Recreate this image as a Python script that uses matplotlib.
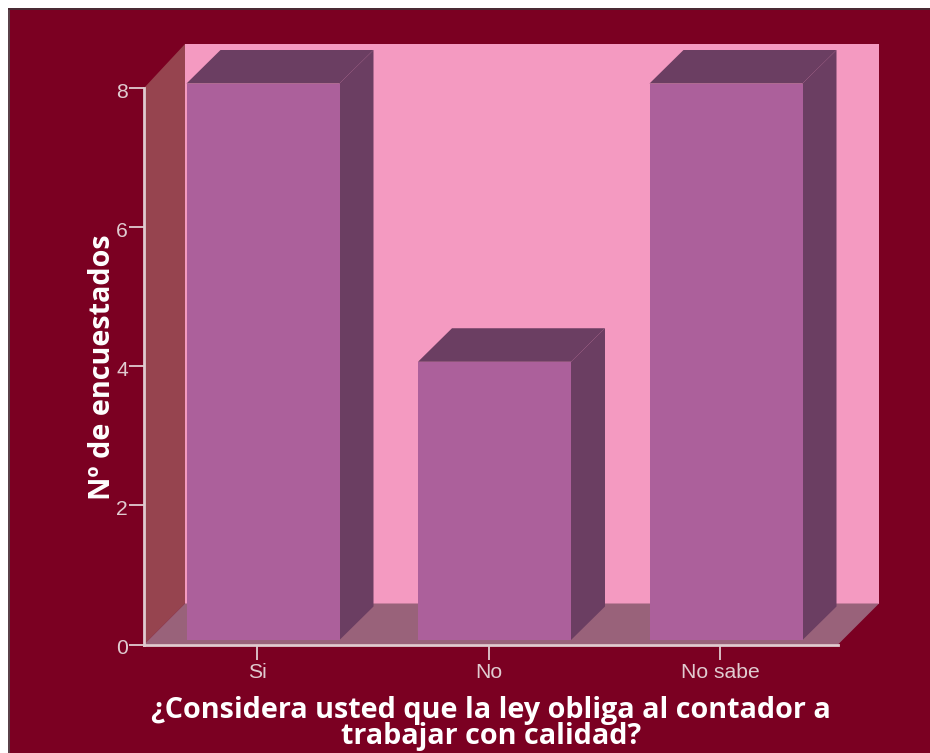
import matplotlib
matplotlib.use("Agg")
import matplotlib.pyplot as plt
from matplotlib.patches import Polygon, Rectangle
from matplotlib.transforms import ScaledTranslation

categories = ["Si", "No", "No sabe"]
values = [8, 4, 8]
y_ticks = [0, 2, 4, 6, 8]
x_title = "¿Considera usted que la ley obliga al contador a\ntrabajar con calidad?"
y_title = "Nº de encuestados"

W, H = 930, 753
plt.rcParams["font.family"] = ["Liberation Sans", "DejaVu Sans"]
fig = plt.figure(figsize=(W / 100, H / 100), dpi=100, facecolor="white")
fig.add_artist(Rectangle((9 / W, 0), 1 - 9 / W, 1 - 9 / H, transform=fig.transFigure,
                         facecolor="#7B0022", edgecolor="none", zorder=-10))
fig.add_artist(Rectangle((8 / W, 0), 1.5 / W, 1 - 8 / H, transform=fig.transFigure,
                         facecolor="#5A4048", edgecolor="none", zorder=-9))
fig.add_artist(Rectangle((8 / W, 1 - 9.5 / H), 1, 1.5 / H, transform=fig.transFigure,
                         facecolor="#4A2A34", edgecolor="none", zorder=-9))

L, R, T, B = 144, 838, 88, 644.5
ax = fig.add_axes([L / W, 1 - B / H, (R - L) / W, (B - T) / H])
ax.patch.set_visible(False)
sx = 231.5  # px per category
sy = (B - T) / 8
x0 = (257 - L) / sx
ax.set_xlim(-x0, (R - L) / sx - x0)
ax.set_ylim(0, 8)

xl, xr = ax.get_xlim()
wall_dx, wall_dy = 41 / sx, 41 / sy
bar_dx, bar_dy = 34 / sx, 33.5 / sy
base = 4.5 / sy
bar_w = 153 / sx
bar_shift = 6.0 / sx
line = "#E0CBD0"

def poly(pts, color, z):
    ax.add_patch(Polygon(pts, closed=True, facecolor=color, edgecolor="none",
                         clip_on=False, zorder=z))

# back wall, left wall, floor
wall_top = (B - 44) / sy
poly([(xl + wall_dx, wall_dy), (xr + wall_dx, wall_dy), (xr + wall_dx, wall_top),
      (xl + wall_dx, wall_top)], "#F49AC1", 1)
poly([(xl, 0), (xl + wall_dx, wall_dy), (xl + wall_dx, wall_top), (xl, 8)], "#96444F", 2)
poly([(xl, 0), (xl + wall_dx, wall_dy), (xr + wall_dx, wall_dy), (xr, 0)], "#99627A", 2)

# bars
positions = [i + bar_shift for i in range(len(values))]
for c, v in zip(positions, values):
    a, b = c - bar_w / 2, c + bar_w / 2
    t = v + base
    poly([(b, base), (b + bar_dx, base + bar_dy), (b + bar_dx, t + bar_dy), (b, t)], "#6B3E62", 3)
    poly([(a, t), (a + bar_dx, t + bar_dy), (b + bar_dx, t + bar_dy), (b, t)], "#6B3E62", 3)
ax.bar(positions, values, bottom=base, width=bar_w, color="#AC609B",
       edgecolor="none", zorder=4, clip_on=False)

# axes
for s in ("top", "right"):
    ax.spines[s].set_visible(False)
for s in ("left", "bottom"):
    ax.spines[s].set_color(line)
    ax.spines[s].set_linewidth(2.0)
    ax.spines[s].set_zorder(5)
ax.set_xticks(range(len(categories)), categories)
ax.set_yticks(y_ticks)
ax.tick_params(axis="x", colors=line, length=11, width=1.3, labelsize=15.2, pad=2)
ax.tick_params(axis="y", colors=line, length=11, width=1.3, labelsize=15.2, pad=0.5)
for lab in ax.get_yticklabels():
    lab.set_transform(lab.get_transform() + ScaledTranslation(0, -2.5 / 100, fig.dpi_scale_trans))

fig.text(491 / W, 1 - 723.5 / H, x_title, ha="center", va="center", color="white",
         fontsize=20.7, fontweight="bold", linespacing=0.9, family="Open Sans")
fig.text(103 / W, 1 - 367 / H, y_title, ha="center", va="center", rotation=90,
         color="white", fontsize=20.7, fontweight="bold", family="Open Sans")

fig.savefig("out.png", dpi=100, facecolor=fig.get_facecolor())
